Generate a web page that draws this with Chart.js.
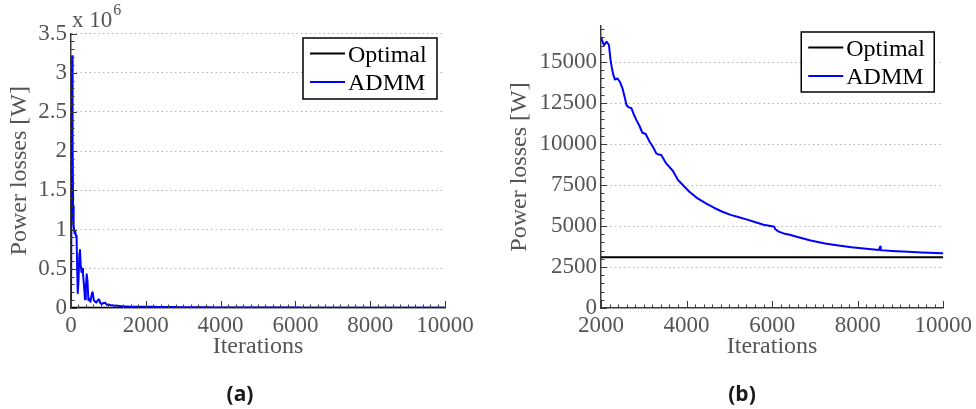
<!DOCTYPE html>
<html>
<head>
<meta charset="utf-8">
<script src="https://cdn.jsdelivr.net/npm/chart.js@4.4.1/dist/chart.umd.min.js"></script>
<style>
  html, body { margin:0; padding:0; background:#fff; }
  body { width:976px; height:409px; position:relative; overflow:hidden; }
  canvas { position:absolute; top:0; }
  #cA { left:0; }
  #cB { left:490px; }
  .sub { position:absolute; top:379px; line-height:22px; font:700 21px "Open Sans", sans-serif;
         color:#1a1a1a; transform:translateX(-50%); }
</style>
</head>
<body>
<canvas id="cA" width="488" height="409"></canvas>
<canvas id="cB" width="486" height="409"></canvas>
<div class="sub" style="left:240px">(a)</div>
<div class="sub" style="left:742px">(b)</div>
<script>
// ---- data -------------------------------------------------------------
const OPTIMAL = 3100;   // optimal power losses [W]

// first 2000 iterations (only shown in the full view)
const earlyIter = [0, 30, 42, 55, 70, 95, 115, 135, 150, 165,
  180, 200, 225, 240, 260, 280, 300, 320, 345, 375,
  395, 420, 440, 465, 490, 520, 560, 580, 610, 642,
  680, 720, 750, 790, 820, 870, 910, 960, 1000, 1043,
  1100, 1176, 1250, 1300, 1400, 1500, 1600, 1800];
const earlyLoss = [30000, 3210000, 2200000, 1300000, 1050000, 950000, 970000, 920000, 880000, 500000,
  190000, 350000, 700000, 740000, 550000, 460000, 500000, 440000, 300000, 110000,
  250000, 430000, 350000, 100000, 120000, 80000, 190000, 200000, 100000, 80000,
  70000, 100000, 110000, 60000, 50000, 65000, 68000, 40000, 45000, 38000,
  35000, 30000, 28000, 25000, 18000, 20000, 17000, 17000];

// iterations 2000..10000
const lateIter = [2000, 2016, 2070, 2132, 2186, 2220, 2248, 2290, 2325, 2387,
  2440, 2503, 2550, 2596, 2640, 2712, 2760, 2828, 2900, 2967,
  3044, 3137, 3220, 3292, 3350, 3408, 3524, 3678, 3800, 4065,
  4250, 4452, 4650, 4838, 5030, 5225, 5420, 5612, 5800, 5998,
  6050, 6076, 6153, 6269, 6385, 6617, 6900, 7237, 7550, 7855,
  8200, 8500, 8525, 8540, 8800, 9169, 9500, 9981, 10000];
const lateLoss = [16450, 16380, 16040, 16240, 16040, 15200, 14720, 14200, 13940, 14000,
  13800, 13390, 12900, 12380, 12250, 12180, 11850, 11460, 11100, 10690,
  10610, 10140, 9800, 9430, 9360, 9330, 8820, 8370, 7805, 7090,
  6700, 6380, 6100, 5870, 5680, 5530, 5390, 5230, 5080, 4980,
  4950, 4800, 4660, 4550, 4480, 4310, 4120, 3940, 3810, 3700,
  3610, 3540, 3740, 3530, 3480, 3430, 3390, 3335, 3330];

// tick labels
const aXMajor = [0, 2000, 4000, 6000, 8000, 10000];
const aYMajor = [0, 500000, 1000000, 1500000, 2000000, 2500000, 3000000, 3500000];
const bXMajor = [2000, 4000, 6000, 8000, 10000];
const bYMajor = [0, 2500, 5000, 7500, 10000, 12500, 15000];

// ---- style ------------------------------------------------------------
const AXIS = '#3a3a3a';
const TXT = '#555';
const SERIF = '"Liberation Serif", "Times New Roman", serif';
const TICK_FONT = { family: SERIF, size: 23, lineHeight: 1.2 };
const TITLE_FONT = { family: SERIF, size: 24, lineHeight: 1.2 };
const GRID = '#b4b4b4';

const pts = (xs, ys) => xs.map((x, i) => ({ x, y: ys[i] }));

// every minor step from min to max (labels only go on the major ones)
const stepTicks = step => s => {
  const out = [];
  for (let v = Math.ceil(s.min / step) * step; v <= s.max + 1e-9; v += step) out.push({ value: v });
  s.ticks = out;
};

// inward MATLAB-style tick marks, long on labelled ticks
const inwardTicks = {
  id: 'inwardTicks',
  afterDraw(chart) {
    const { ctx, chartArea: a, scales: { x, y } } = chart;
    ctx.save();
    ctx.strokeStyle = AXIS;
    ctx.lineWidth = 1;
    ctx.beginPath();
    x.ticks.forEach(t => {
      const px = Math.round(x.getPixelForValue(t.value)) + 0.5;
      const len = t.label !== '' ? 7 : 3.5;
      ctx.moveTo(px, a.bottom);
      ctx.lineTo(px, a.bottom - len);
    });
    y.ticks.forEach(t => {
      const py = Math.round(y.getPixelForValue(t.value)) + 0.5;
      const len = t.label !== '' ? 6 : 3.5;
      ctx.moveTo(a.left, py);
      ctx.lineTo(a.left + len, py);
    });
    ctx.stroke();
    ctx.restore();
  }
};

// boxed legend in the upper right corner of the plot
const boxLegend = {
  id: 'boxLegend',
  afterDraw(chart, args, o) {
    const { ctx, chartArea: a } = chart;
    const left = a.right - o.right - o.width, top = a.top + o.top;
    ctx.save();
    ctx.fillStyle = '#fff';
    ctx.fillRect(left, top, o.width, o.height);
    ctx.strokeStyle = '#000';
    ctx.lineWidth = 1.5;
    ctx.strokeRect(left, top, o.width, o.height);
    ctx.font = '24px ' + SERIF;
    ctx.textBaseline = 'alphabetic';
    chart.data.datasets.forEach((ds, i) => {
      const ly = top + 15.5 + i * 28.5;
      ctx.strokeStyle = ds.borderColor;
      ctx.lineWidth = 2;
      ctx.beginPath();
      ctx.moveTo(left + 7, ly);
      ctx.lineTo(left + 42, ly);
      ctx.stroke();
      ctx.fillStyle = '#000';
      ctx.fillText(ds.label, left + 45, top + 24 + i * 27.7);
    });
    ctx.restore();
  }
};

// "x 10^6" multiplier above the y axis
const axisExponent = {
  id: 'axisExponent',
  afterDraw(chart) {
    const { ctx, chartArea: a } = chart;
    ctx.save();
    ctx.fillStyle = TXT;
    ctx.textBaseline = 'alphabetic';
    ctx.font = '23px ' + SERIF;
    ctx.fillText('x 10', a.left + 1, 27);
    const w = ctx.measureText('x 10').width;
    ctx.font = '16px ' + SERIF;
    ctx.fillText('6', a.left + 2 + w, 15);
    ctx.restore();
  }
};

function makeChart(id, c) {
  return new Chart(document.getElementById(id), {
    type: 'line',
    data: {
      datasets: [
        { label: 'Optimal', data: pts([c.xMin, c.xMax], [OPTIMAL, OPTIMAL]),
          borderColor: '#000', borderWidth: 2, order: 1 },
        { label: 'ADMM', data: pts(c.iter, c.loss),
          borderColor: '#0000ff', borderWidth: 2, order: 0 },
      ],
    },
    options: {
      responsive: false,
      animation: false,
      events: [],
      parsing: false,
      elements: { point: { radius: 0 }, line: { tension: 0, borderJoinStyle: 'round' } },
      layout: { padding: { left: 0, right: c.padRight, top: c.padTop, bottom: 43.6 } },
      plugins: {
        legend: { display: false },
        tooltip: { enabled: false },
        boxLegend: c.legend,
      },
      scales: {
        x: {
          type: 'linear', min: c.xMin, max: c.xMax,
          afterFit: s => { s.height = 57.4; },
          afterBuildTicks: stepTicks(200),
          grid: { display: false, drawTicks: false },
          border: { display: true, color: AXIS, width: 1.5 },
          ticks: {
            autoSkip: false, maxRotation: 0, padding: 4,
            color: TXT, font: TICK_FONT,
            callback: v => c.xMajor.includes(v) ? String(v) : '',
          },
          title: { display: true, text: 'Iterations', color: TXT, font: TITLE_FONT,
                   padding: { top: 0, bottom: 4 } },
        },
        y: {
          type: 'linear', min: 0, max: c.yMax,
          afterFit: s => { s.width = c.yWidth; },
          afterBuildTicks: stepTicks(c.yMinor),
          grid: {
            drawTicks: false, lineWidth: 1,
            color: ctx => (ctx.tick && ctx.tick.value !== 0 && c.yMajor.includes(ctx.tick.value)) ? GRID : 'transparent',
          },
          border: { display: true, color: AXIS, width: 1.5, dash: [1.5, 3] },
          ticks: {
            autoSkip: false, padding: 4,
            color: TXT, font: TICK_FONT,
            callback: v => c.yMajor.includes(v) ? c.yFmt(v) : '',
          },
          title: { display: true, text: 'Power losses [W]', color: TXT, font: TITLE_FONT,
                   padding: { top: c.titlePad, bottom: 0 } },
        },
      },
    },
    plugins: c.plugins,
  });
}

// (a) full run
makeChart('cA', {
  iter: earlyIter.concat(lateIter), loss: earlyLoss.concat(lateLoss),
  xMin: 0, xMax: 10000, xMajor: aXMajor,
  yMax: 3500000, yMinor: 100000, yMajor: aYMajor, yFmt: v => String(v / 1e6),
  yWidth: 71, titlePad: 5.6, padRight: 43, padTop: 33.5,
  legend: { right: 8, top: 4.5, width: 134, height: 61 },
  plugins: [inwardTicks, boxLegend, axisExponent],
});

// (b) iterations 2000..10000
makeChart('cB', {
  iter: lateIter, loss: lateLoss,
  xMin: 2000, xMax: 10000, xMajor: bXMajor,
  yMax: 17200, yMinor: 500, yMajor: bYMajor, yFmt: v => String(v),
  yWidth: 111, titlePad: 15.6, padRight: 30, padTop: 26,
  legend: { right: 9, top: 6, width: 133, height: 60 },
  plugins: [inwardTicks, boxLegend],
});
</script>
</body>
</html>
